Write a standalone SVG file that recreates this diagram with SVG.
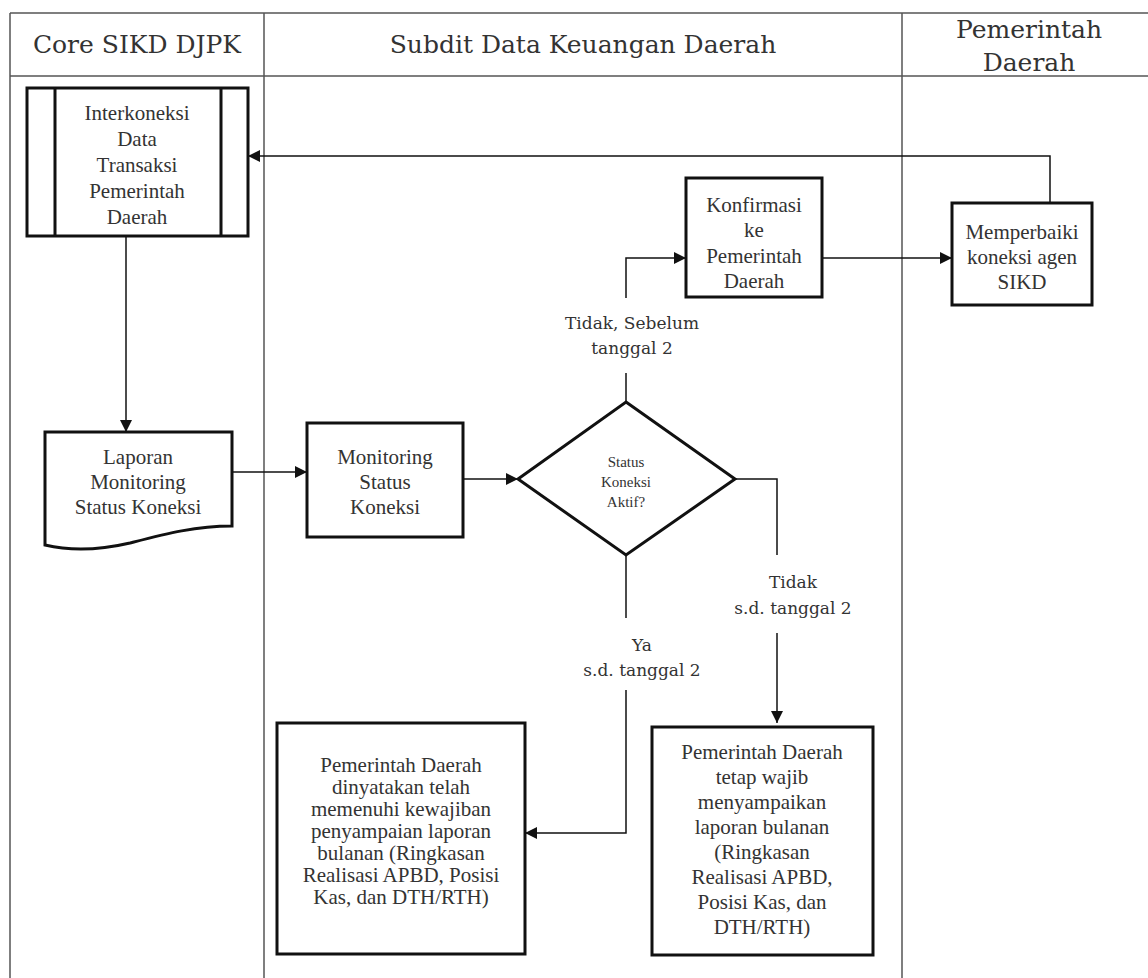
<svg xmlns="http://www.w3.org/2000/svg" width="1148" height="978" viewBox="0 0 1148 978">
<style>
.lane{stroke:#555;stroke-width:1.5;fill:none}
.hdr{font-family:"DejaVu Serif",serif;font-size:25px;fill:#333;text-anchor:middle}
.box{fill:#fff;stroke:#111;stroke-width:3}
.t{font-family:"Liberation Serif",serif;font-size:21px;fill:#333;text-anchor:middle;dominant-baseline:central}
.ts{font-family:"Liberation Serif",serif;font-size:15px;fill:#333;text-anchor:middle;dominant-baseline:central}
.lbl{font-family:"DejaVu Serif",serif;font-size:17px;fill:#333;text-anchor:middle;dominant-baseline:central}
.c{fill:none;stroke:#111;stroke-width:1.5}
</style>
<defs>
<marker id="ah" viewBox="0 0 10 10" refX="10" refY="5" markerWidth="12" markerHeight="12" markerUnits="userSpaceOnUse" orient="auto">
<path d="M0,0 L10,5 L0,10 Z" fill="#111"/>
</marker>
</defs>
<rect width="1148" height="978" fill="#fff"/>
<g id="lanes">
<path class="lane" d="M10,13 H1148 M10,76 H1148 M10,13 V978 M264,13 V978 M902,13 V978"/>
<text class="hdr" x="137" y="53">Core SIKD DJPK</text>
<text class="hdr" x="583" y="53">Subdit Data Keuangan Daerah</text>
<text class="hdr" x="1029" y="38">Pemerintah</text>
<text class="hdr" x="1029" y="71">Daerah</text>
</g>
<g id="connectors">
<path class="c" d="M126,236 V432" marker-end="url(#ah)"/>
<path class="c" d="M232,472 H307" marker-end="url(#ah)"/>
<path class="c" d="M463,479 H518" marker-end="url(#ah)"/>
<path class="c" d="M626,402 V373"/>
<path class="c" d="M626,298 V258 H686" marker-end="url(#ah)"/>
<path class="c" d="M822,258 H952" marker-end="url(#ah)"/>
<path class="c" d="M1050,203 V156 H248" marker-end="url(#ah)"/>
<path class="c" d="M735,479 H777 V555"/>
<path class="c" d="M777,633 V723" marker-end="url(#ah)"/>
<path class="c" d="M626,555 V618"/>
<path class="c" d="M626,690 V833 H525" marker-end="url(#ah)"/>
<text class="lbl" x="632" y="323">Tidak, Sebelum</text>
<text class="lbl" x="632" y="348">tanggal 2</text>
<text class="lbl" x="793" y="582">Tidak</text>
<text class="lbl" x="793" y="608">s.d. tanggal 2</text>
<text class="lbl" x="642" y="645">Ya</text>
<text class="lbl" x="642" y="670">s.d. tanggal 2</text>
</g>
<g id="interkoneksi">
<rect class="box" x="27" y="88" width="221" height="148"/>
<path class="box" d="M55,88 V236 M221,88 V236"/>
<text class="t" x="137" y="113">Interkoneksi</text>
<text class="t" x="137" y="139">Data</text>
<text class="t" x="137" y="165">Transaksi</text>
<text class="t" x="137" y="191">Pemerintah</text>
<text class="t" x="137" y="217">Daerah</text>
</g>
<g id="laporan">
<path class="box" d="M45,432 H232 V526 C195,526 165,534 130,543 C100,550 70,551 45,545 Z"/>
<text class="t" x="138" y="457">Laporan</text>
<text class="t" x="138" y="482">Monitoring</text>
<text class="t" x="138" y="507">Status Koneksi</text>
</g>
<g id="monitoring">
<rect class="box" x="307" y="423" width="156" height="114"/>
<text class="t" x="385" y="457">Monitoring</text>
<text class="t" x="385" y="482">Status</text>
<text class="t" x="385" y="507">Koneksi</text>
</g>
<g id="decision">
<path class="box" d="M626,402 L735,479 L626,555 L518,479 Z"/>
<text class="ts" x="626" y="462">Status</text>
<text class="ts" x="626" y="482">Koneksi</text>
<text class="ts" x="626" y="502">Aktif?</text>
</g>
<g id="konfirmasi">
<rect class="box" x="686" y="178" width="136" height="119"/>
<text class="t" x="754" y="205">Konfirmasi</text>
<text class="t" x="754" y="230">ke</text>
<text class="t" x="754" y="256">Pemerintah</text>
<text class="t" x="754" y="281">Daerah</text>
</g>
<g id="memperbaiki">
<rect class="box" x="952" y="203" width="140" height="102"/>
<text class="t" x="1022" y="232">Memperbaiki</text>
<text class="t" x="1022" y="257">koneksi agen</text>
<text class="t" x="1022" y="282">SIKD</text>
</g>
<g id="ya-result">
<rect class="box" x="277" y="723" width="248" height="231"/>
<text class="t" x="401" y="765">Pemerintah Daerah</text>
<text class="t" x="401" y="787">dinyatakan telah</text>
<text class="t" x="401" y="809">memenuhi kewajiban</text>
<text class="t" x="401" y="831">penyampaian laporan</text>
<text class="t" x="401" y="853">bulanan (Ringkasan</text>
<text class="t" x="401" y="875">Realisasi APBD, Posisi</text>
<text class="t" x="401" y="897">Kas, dan DTH/RTH)</text>
</g>
<g id="tidak-result">
<rect class="box" x="652" y="727" width="221" height="228"/>
<text class="t" x="762" y="752">Pemerintah Daerah</text>
<text class="t" x="762" y="777">tetap wajib</text>
<text class="t" x="762" y="802">menyampaikan</text>
<text class="t" x="762" y="827">laporan bulanan</text>
<text class="t" x="762" y="852">(Ringkasan</text>
<text class="t" x="762" y="877">Realisasi APBD,</text>
<text class="t" x="762" y="902">Posisi Kas, dan</text>
<text class="t" x="762" y="927">DTH/RTH)</text>
</g>
</svg>
